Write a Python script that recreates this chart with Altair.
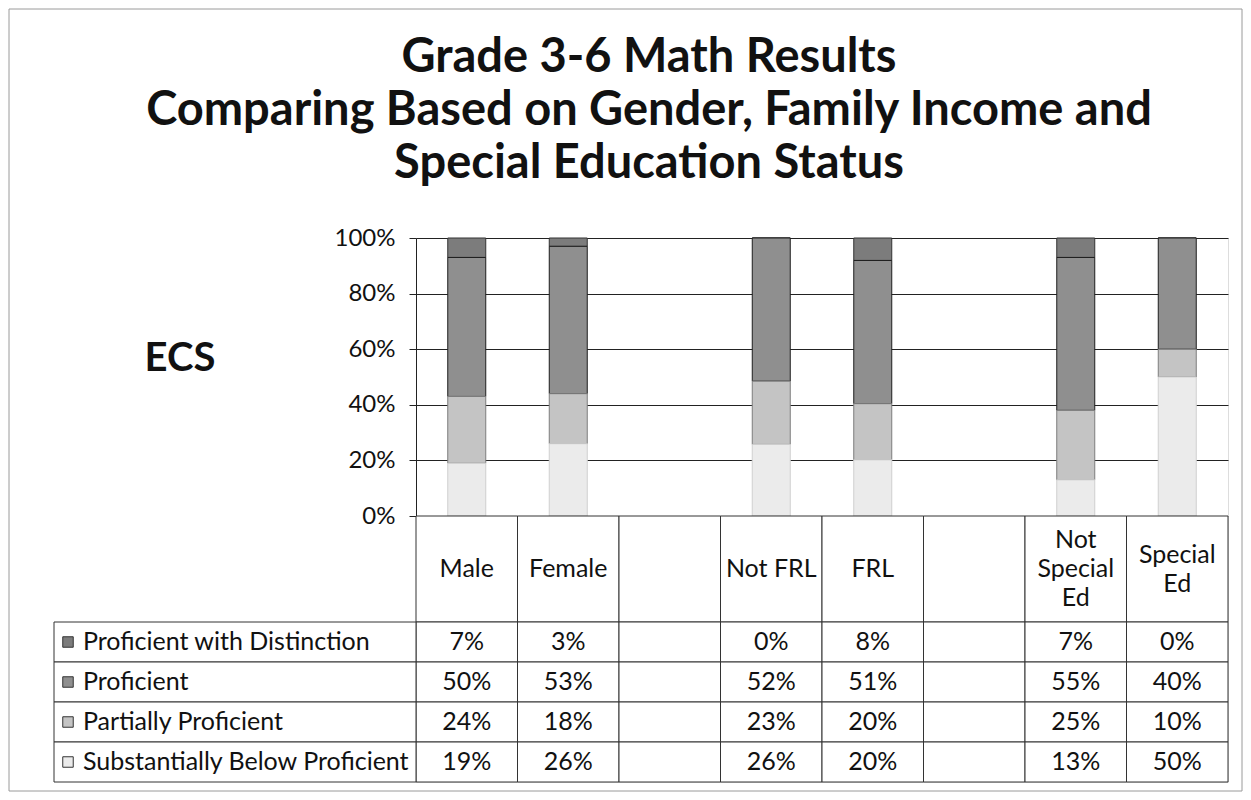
import altair as alt
import pandas as pd

# ---------------- data ----------------
title_lines = [
    "Grade 3-6 Math Results",
    "Comparing Based on Gender, Family Income and",
    "Special Education Status",
]
side_label = "ECS"

categories = ["Male", "Female", "gap1", "Not FRL", "FRL", "gap2", "Not Special Ed", "Special Ed"]
header_labels = ["Male", "Female", "", "Not FRL", "FRL", "", "Not\nSpecial\nEd", "Special\nEd"]

# table order (top -> bottom)
levels = [
    "Proficient with Distinction",
    "Proficient",
    "Partially Proficient",
    "Substantially Below Proficient",
]
distinction = [7, 3, None, 0, 8, None, 7, 0]
proficient = [50, 53, None, 52, 51, None, 55, 40]
partially = [24, 18, None, 23, 20, None, 25, 10]
substantially = [19, 26, None, 26, 20, None, 13, 50]

y_ticks = [0, 0.2, 0.4, 0.6, 0.8, 1.0]

fills = ["#7c7c7c", "#8f8f8f", "#c4c4c4", "#ebebeb"]
strokes = ["#333333", "#1e1e1e", "#7d7d7d", "#cfcfcf"]

FONT = "Lato"

# ---------------- tables ----------------
series = [distinction, proficient, partially, substantially]
rows = []
for j, (lev, vals) in enumerate(zip(levels, series)):
    for i, cat in enumerate(categories):
        rows.append({
            "cat": cat,
            "level": lev,
            "value": vals[i],
            "stack_order": 3 - j,
        })
cells_df = pd.DataFrame(rows)
bar_df = cells_df.dropna(subset=["value"]).copy()
val_df = bar_df.copy()
val_df["label"] = val_df["value"].astype(int).astype(str) + "%"
header_df = pd.DataFrame({"cat": categories, "label": header_labels})
header_df["nlines"] = header_df["label"].str.count("\n") + 1
legend_df = pd.DataFrame({"level": levels})
one_row = pd.DataFrame({"k": [0]})

W = 812
H_BARS = 278
H_HEAD = 106
H_ROWS = 160
HEAD_LH = 29

x_scale = alt.Scale(domain=categories, paddingInner=0, paddingOuter=0)
color_scale = alt.Scale(domain=levels, range=fills)
stroke_scale = alt.Scale(domain=levels, range=strokes)

# ---------------- top: bars ----------------
border = alt.Chart(one_row).mark_rect(
    fill="white", fillOpacity=0, stroke="#9a9a9a", strokeWidth=1
).encode(
    x=alt.value(-407), x2=alt.value(826), y=alt.value(-229), y2=alt.value(553)
)

title_mark = alt.Chart(one_row).mark_text(
    text=title_lines, font=FONT, fontSize=47, fontWeight="bold",
    align="center", baseline="alphabetic", lineHeight=53, color="#111111",
).encode(x=alt.value(233), y=alt.value(-166))

ecs_mark = alt.Chart(one_row).mark_text(
    text=side_label, font=FONT, fontSize=40, fontWeight="bold",
    align="center", baseline="alphabetic", color="#111111",
).encode(x=alt.value(-236), y=alt.value(133))

bars = alt.Chart(bar_df).mark_bar(width=38, strokeWidth=1).encode(
    x=alt.X("cat:N", scale=x_scale, axis=None),
    y=alt.Y(
        "value:Q",
        stack="normalize",
        scale=alt.Scale(domain=[0, 1], nice=False),
        axis=alt.Axis(
            values=y_ticks, format=".0%", title=None,
            labelFont=FONT, labelFontSize=24, labelColor="#111111",
            labelPadding=14, tickSize=7, tickColor="#222222",
            domainColor="#222222", grid=True, gridColor="#222222",
            gridOpacity=1,
        ),
    ),
    color=alt.Color("level:N", scale=color_scale, legend=None),
    stroke=alt.Stroke("level:N", scale=stroke_scale, legend=None),
    order=alt.Order("stack_order:Q", sort="ascending"),
)

top = alt.layer(border, title_mark, ecs_mark, bars).properties(width=W, height=H_BARS)

# ---------------- header row ----------------
hbase = alt.Chart(header_df).encode(x=alt.X("cat:N", scale=x_scale, axis=None))
hcells = hbase.mark_rect(fill="white", stroke="#333333", strokeWidth=1)
htexts = []
for n in (1, 2, 3):
    htexts.append(
        hbase.transform_filter(alt.datum.nlines == n).mark_text(
            font=FONT, fontSize=25, lineBreak="\n", lineHeight=HEAD_LH,
            baseline="middle", align="center", color="#111111",
            dy=-(n - 1) * HEAD_LH / 2,
        ).encode(text="label:N")
    )
header = alt.layer(hcells, *htexts).properties(width=W, height=H_HEAD)

# ---------------- data rows ----------------
y_scale = alt.Scale(domain=levels, paddingInner=0, paddingOuter=0)

rcells = alt.Chart(cells_df).mark_rect(fill="white", stroke="#333333", strokeWidth=1).encode(
    x=alt.X("cat:N", scale=x_scale, axis=None),
    y=alt.Y("level:N", scale=y_scale, axis=None),
)
rtext = alt.Chart(val_df).mark_text(
    font=FONT, fontSize=25, baseline="middle", align="center", color="#111111"
).encode(
    x=alt.X("cat:N", scale=x_scale, axis=None),
    y=alt.Y("level:N", scale=y_scale, axis=None),
    text="label:N",
)
lcells = alt.Chart(legend_df).mark_rect(fill="white", stroke="#333333", strokeWidth=1).encode(
    x=alt.value(-362), x2=alt.value(0),
    y=alt.Y("level:N", scale=y_scale, axis=None),
)
lswatch = alt.Chart(legend_df).mark_square(size=110, strokeWidth=1, opacity=1).encode(
    x=alt.value(-348),
    y=alt.Y("level:N", scale=y_scale, axis=None),
    fill=alt.Fill("level:N", scale=color_scale, legend=None),
    stroke=alt.value("#333333"),
)
ltext = alt.Chart(legend_df).mark_text(
    font=FONT, fontSize=25, baseline="middle", align="left", color="#111111"
).encode(
    x=alt.value(-333),
    y=alt.Y("level:N", scale=y_scale, axis=None),
    text="level:N",
)
table = alt.layer(rcells, rtext, lcells, lswatch, ltext).properties(width=W, height=H_ROWS)

chart = alt.vconcat(
    top, header, table, spacing=0, bounds="flush", padding=0
).resolve_scale(
    x="independent", y="independent", color="independent",
    stroke="independent", fill="independent",
).configure_view(strokeWidth=0).configure(background="white", font=FONT)

chart.save("out.html", embed_options={"renderer": "svg", "actions": False})
